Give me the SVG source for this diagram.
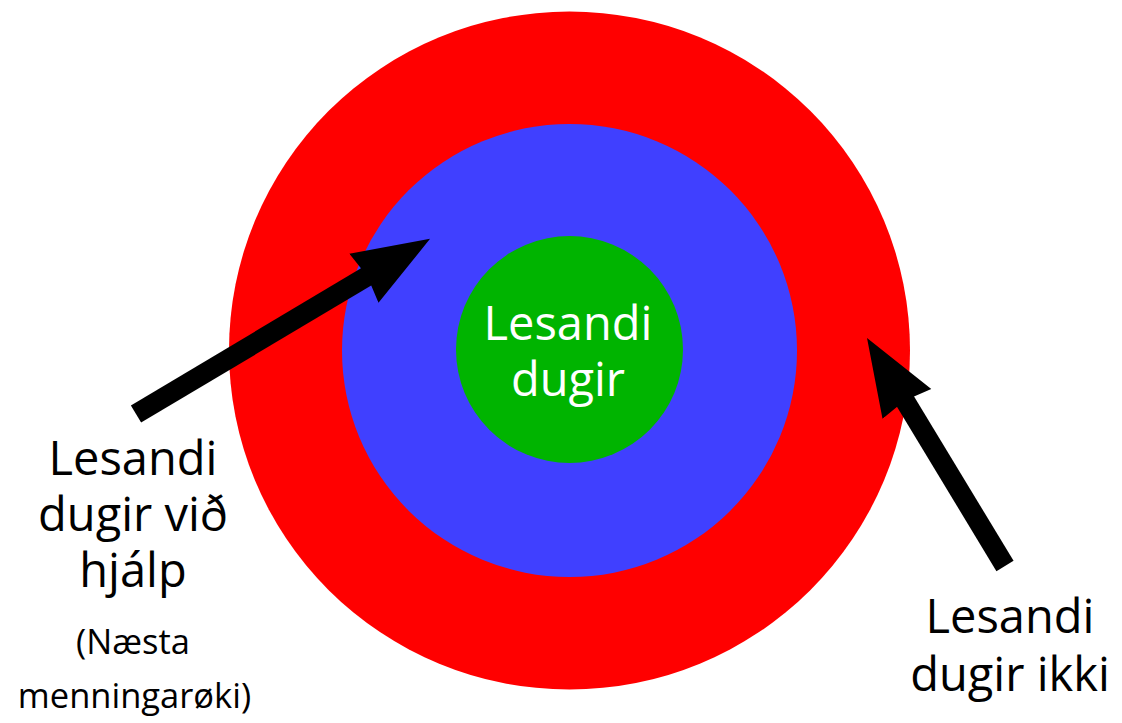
<svg xmlns="http://www.w3.org/2000/svg" width="1122" height="723" viewBox="0 0 1122 723">
<style>
text{font-family:"Open Sans","Noto Sans","DejaVu Sans",sans-serif;text-anchor:middle;}
.big{font-size:47px;fill:#000;}
.small{font-size:34.5px;fill:#000;}
.inner{font-size:47px;fill:#fff;}
.arrow{stroke:#000;stroke-width:20;fill:none;marker-end:url(#head);}
</style>
<defs>
<marker id="head" markerUnits="userSpaceOnUse" markerWidth="90" markerHeight="70" viewBox="0 -35 90 70" refX="5" refY="0" orient="auto">
<path d="M0,-28.5 L77,0 L0,28.5 L4,0 Z" fill="#000"/>
</marker>
</defs>
<rect width="1122" height="723" fill="#fff"/>
<g id="outer">
<ellipse cx="569.5" cy="350.5" rx="340.5" ry="339" fill="#ff0000"/>
</g>
<g id="middle">
<ellipse cx="569.5" cy="350.5" rx="227.5" ry="226.5" fill="#4040ff"/>
</g>
<g id="center">
<ellipse cx="569.5" cy="349.5" rx="113.5" ry="113.5" fill="#00b400"/>
<text class="inner" x="568" y="340">Lesandi</text>
<text class="inner" x="568" y="396">dugir</text>
</g>
<g id="connectors">
<line class="arrow" x1="136" y1="414" x2="368.2" y2="275.7"/>
<line class="arrow" x1="1005" y1="566" x2="904.3" y2="399.6"/>
</g>
<g id="label-left">
<text class="big" x="133" y="475">Lesandi</text>
<text class="big" x="133" y="531">dugir við</text>
<text class="big" x="133" y="587">hjálp</text>
<text class="small" x="133" y="654">(Næsta</text>
<text class="small" x="134.5" y="708">menningarøki)</text>
</g>
<g id="label-right">
<text class="big" x="1010" y="633">Lesandi</text>
<text class="big" x="1010" y="691">dugir ikki</text>
</g>
</svg>
